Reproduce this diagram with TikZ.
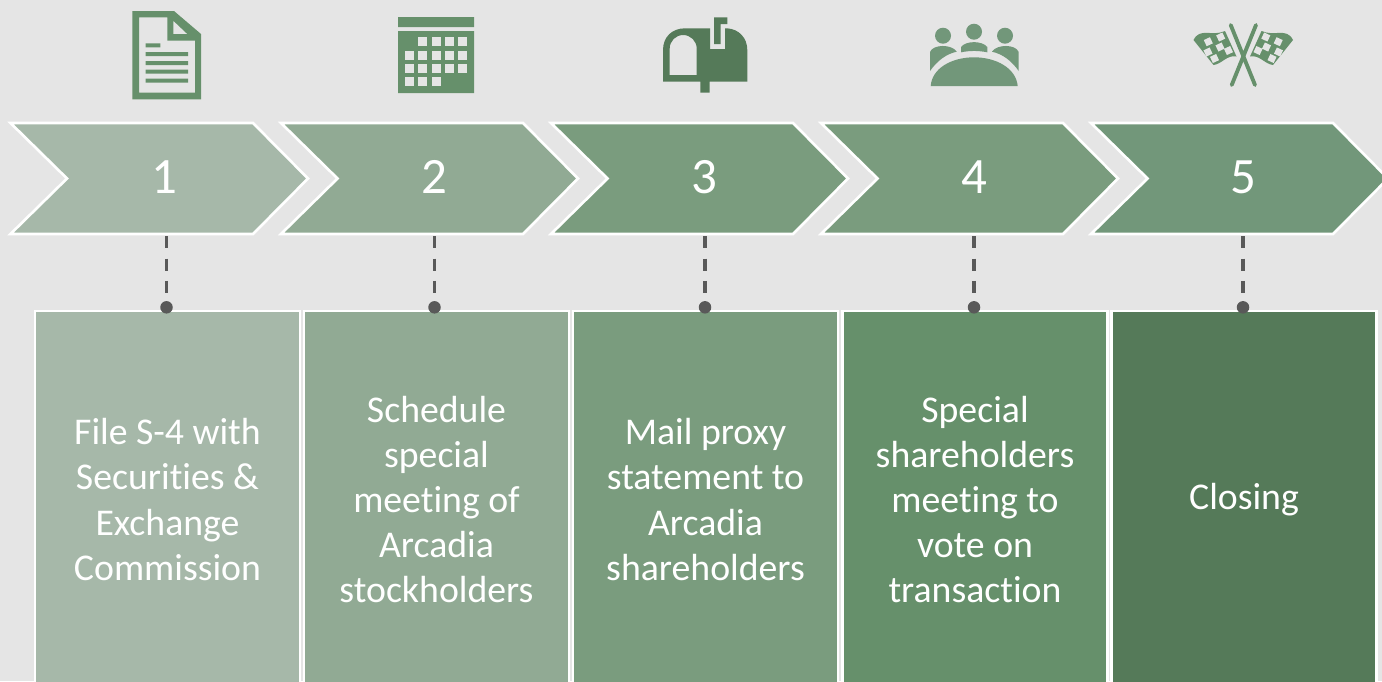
\documentclass[tikz,border=0pt]{standalone}
\usepackage{fontspec}
\setmainfont[Ligatures=NoCommon]{Carlito}
\usepackage{tikz}
\usetikzlibrary{positioning}
\definecolor{paper}{HTML}{E5E5E5}
\definecolor{sageA}{HTML}{A6B8A9}
\definecolor{sageB}{HTML}{91AA94}
\definecolor{sageC}{HTML}{7A9C7E}
\definecolor{sageD}{HTML}{66906B}
\definecolor{sageE}{HTML}{557A59}
\definecolor{sageF}{HTML}{72977A}
\definecolor{stem}{HTML}{595959}
\tikzstyle{chevron}=[draw=white,line width=1.5pt,line join=miter]
\tikzstyle{num}=[text=white,inner sep=0mm,font=\fontsize{29}{34}\selectfont]
\tikzstyle{stepbox}=[rectangle,draw=white,line width=1.6pt,minimum width=5.3cm,minimum height=7.54cm,text width=4.8cm,align=flush center,text=white,inner sep=0mm,font=\fontsize{21.5}{25.7}\selectfont]
\tikzstyle{pin}=[circle,fill=stem,inner sep=0mm,minimum size=0.25cm]
\tikzstyle{link}=[draw=stem,line width=2pt,dash pattern=on 7.1pt off 5.7pt]
\newcommand \flagicon {
    \fill[sageD] (1193.5,40) .. controls (1200,27) and (1212,37) .. (1225,31) -- (1236.5,56.5) .. controls (1227,54.5) and (1222,64) .. (1213.5,65) -- cycle;
    \foreach \cx/\cy in {1208.3/41.7,1220.7/37,1208/52,1220/47,1214.5/58.5,1228.5/50.5}
      \fill[paper,shift={(\cx,\cy)},rotate=25] (-3.4,-3.4) rectangle (3.4,3.4);
}
\begin{document}
\begin{tikzpicture}[x=0.02cm,y=-0.02cm]
    \useasboundingbox (0,0) rectangle (1382,681);
    \clip (0,0) rectangle (1382,681);
    \fill[paper] (0,0) rectangle (1382,681);
    % document
    \fill[sageD,even odd rule] (132.3,11) -- (174,11) -- (201,34) -- (201,99.3) -- (132.3,99.3) -- cycle
      (139,17.3) -- (167.3,17.3) -- (167.3,40.7) -- (195,40.7) -- (195,92.7) -- (139,92.7) -- cycle
      (173.3,20.7) -- (187.3,34) -- (173.3,34) -- cycle;
    \fill[sageD] (145.7,43.3) rectangle (160.3,47.3) (145.7,52) rectangle (188,56)
      (145.7,61) rectangle (188,65) (145.7,69.7) rectangle (188,73.7) (145.7,78.7) rectangle (188,82.7);
    % calendar
    \fill[sageD] (398,17) rectangle (474,27) (398,31) rectangle (474,93);
    \foreach \cx/\cy in {418.3/37.3,431.7/37.3,445/37.3,458.3/37.3,
      405/50.7,418.3/50.7,431.7/50.7,445/50.7,458.3/50.7,
      405/64,418.3/64,431.7/64,445/64,458.3/64,
      405/77.3,418.3/77.3,431.7/77.3}
      \fill[paper] (\cx,\cy) rectangle +(9,9);
    % mailbox
    \fill[sageE,even odd rule] (663,81.7) -- (663,50) .. controls (663,37) and (672,28.3) .. (685,28.3) -- (710,28.3) -- (710,49) -- (725,49) -- (725,28.3) -- (727,28.3)
      .. controls (739,29) and (747.3,38) .. (747.3,50) -- (747.3,81.7) -- (709.7,81.7) -- (709.7,92.7) -- (700.3,92.7) -- (700.3,81.7) -- cycle
      (669.7,75) -- (669.7,48.5) arc (180:360:13.5) -- (696.7,75) -- cycle;
    \fill[sageE] (714,17.3) -- (727.3,17.3) -- (727.3,24) -- (720.7,24) -- (720.7,44) -- (714,44) -- cycle;
    % meeting
    \fill[sageF] (943,35.7) circle (8) (974,31.7) circle (8) (1005,35.7) circle (8);
    \fill[sageF] (930.7,86) .. controls (932,68) and (952,57.3) .. (974,57.3) .. controls (996,57.3) and (1016,68) .. (1017.7,86) -- cycle;
    \fill[sageF] (961,52.3) -- (961,47) .. controls (966,40.5) and (982,40.5) .. (987.3,47) -- (987.3,52.3) .. controls (978,50.5) and (970,50.5) .. (961,52.3) -- cycle;
    \fill[sageF] (930,71) -- (930,52) .. controls (933,44) and (952,44) .. (956.7,51.7) .. controls (946,54) and (937,61) .. (930,71) -- cycle;
    \fill[sageF] (1018.7,71) -- (1018.7,52) .. controls (1015.7,44) and (996.7,44) .. (992,51.7) .. controls (1002.7,54) and (1011.7,61) .. (1018.7,71) -- cycle;
    % flags
    \flagicon
    \begin{scope}[shift={(2486.5,0)},xscale=-1]
      \flagicon
    \end{scope}
    \draw[sageD,line width=2.2pt,line cap=round] (1230.7,25) -- (1255,85) (1256,25) -- (1231.7,85);
    % chevrons
    \draw[chevron,fill=sageA] (10.5,123) -- (253,123) -- (308,178.5) -- (253,234) -- (10.5,234) -- (67,178.5) -- cycle;
    \draw[chevron,fill=sageB] (281,123) -- (523,123) -- (578,178.5) -- (523,234) -- (281,234) -- (337.5,178.5) -- cycle;
    \draw[chevron,fill=sageC] (551,123) -- (793,123) -- (848,178.5) -- (793,234) -- (551,234) -- (607.5,178.5) -- cycle;
    \draw[chevron,fill=sageC] (821,123) -- (1063,123) -- (1118,178.5) -- (1063,234) -- (821,234) -- (877.5,178.5) -- cycle;
    \draw[chevron,fill=sageF] (1091,123) -- (1333,123) -- (1388,178.5) -- (1333,234) -- (1091,234) -- (1147.5,178.5) -- cycle;
    \node[num] at (164.5,177) (num1) {1};
    \node[num] at (434,177) (num2) {2};
    \node[num] at (704,177) (num3) {3};
    \node[num] at (974,177) (num4) {4};
    \node[num] at (1243.5,177) (num5) {5};
    % boxes
    \node[stepbox,fill=sageA] at (167.5,499.5) (box1) {File S-4 with\\Securities \&\\Exchange\\Commission};
    \node[stepbox,fill=sageB] at (436.5,499.5) (box2) {Schedule\\special\\meeting of\\Arcadia\\stockholders};
    \node[stepbox,fill=sageC] at (705.5,499.5) (box3) {Mail proxy\\statement to\\Arcadia\\shareholders};
    \node[stepbox,fill=sageD] at (975,499.5) (box4) {Special\\shareholders\\meeting to\\vote on\\transaction};
    \node[stepbox,fill=sageE] at (1244,499.5) (box5) {Closing};
    % pins
    \coordinate (foot1) at (166.5,236);
    \coordinate (foot2) at (434.5,236);
    \coordinate (foot3) at (705,236);
    \coordinate (foot4) at (974,236);
    \coordinate (foot5) at (1243,236);
    \node[pin] at (166.5,307.3) (pin1) {};
    \node[pin] at (434.5,307.3) (pin2) {};
    \node[pin] at (705,307.3) (pin3) {};
    \node[pin] at (974,307.3) (pin4) {};
    \node[pin] at (1243,307.3) (pin5) {};
    \draw[link] (foot1) -- (pin1);
    \draw[link] (foot2) -- (pin2);
    \draw[link] (foot3) -- (pin3);
    \draw[link] (foot4) -- (pin4);
    \draw[link] (foot5) -- (pin5);
  \end{tikzpicture}
\end{document}
